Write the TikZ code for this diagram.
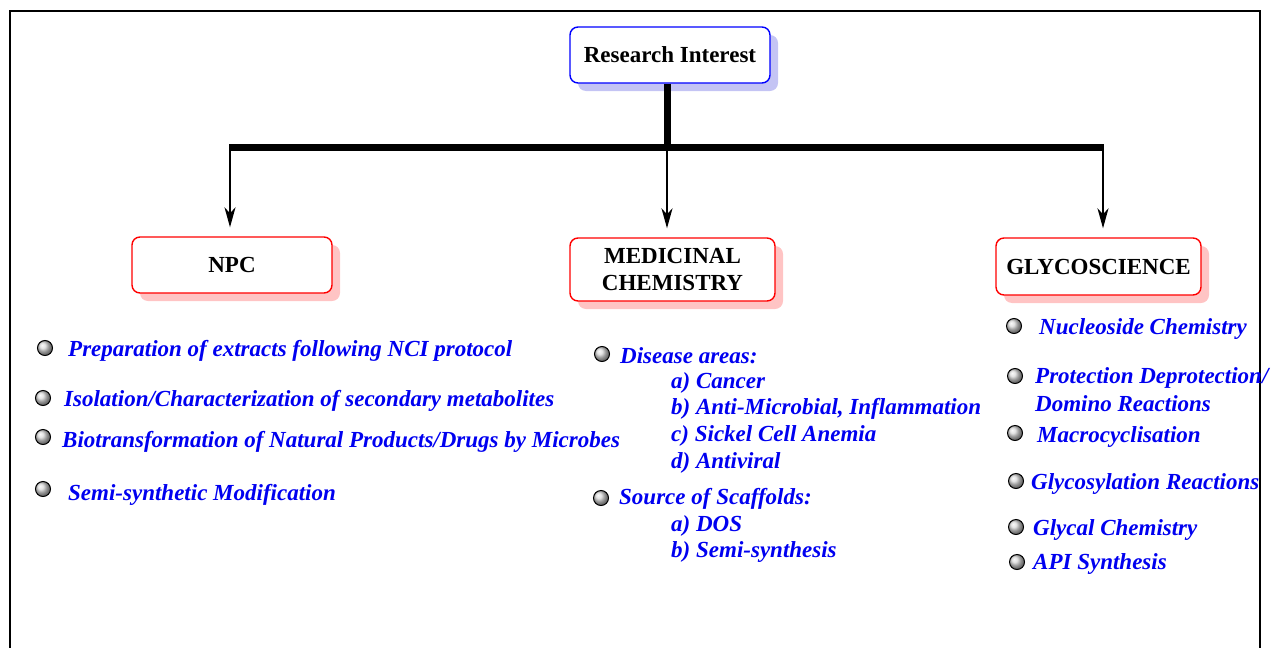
\documentclass[tikz,border=0pt]{standalone}
\usepackage{fontspec}
\setmainfont{Liberation Serif}
\usetikzlibrary{shadows,arrows.meta}
\definecolor{shblue}{HTML}{C4C4F4}
\definecolor{shred}{HTML}{FFC4C4}
\definecolor{itblue}{HTML}{0000F0}
\tikzset{
  topbox/.style={draw=blue,line width=1.4pt,rounded corners=8pt,fill=white,
    minimum width=200pt,minimum height=56pt,align=center,
    font=\fontsize{23}{27}\selectfont\bfseries,
    drop shadow={shadow xshift=8pt,shadow yshift=-8pt,fill=shblue,opacity=1}},
  catbox/.style={draw=red,line width=1.4pt,rounded corners=8pt,fill=white,
    minimum height=56pt,align=center,
    font=\fontsize{23}{27}\selectfont\bfseries,
    drop shadow={shadow xshift=8pt,shadow yshift=-8pt,fill=shred,opacity=1}},
  item/.style={anchor=west,inner sep=0pt,text=itblue,yshift=-2pt,
    font=\fontsize{23}{27}\selectfont\bfseries\itshape},
  ball/.style={circle,draw=black,line width=1pt,minimum size=15pt,inner sep=0pt,
    ball color=gray!30!white},
  conn/.style={line width=2pt,shorten >=9pt,-{Stealth[length=20pt,width=11pt,inset=6pt]}},
}
\begin{document}
\begin{tikzpicture}[x=1pt,y=-1pt]
\useasboundingbox (0,0) rectangle (1272,648);
% frame
\draw[line width=2pt] (10,650) -- (10,11) -- (1260,11) -- (1260,650);

\node[topbox] (ri) at (670,55) {Research Interest};
\node[catbox,minimum width=200pt] (npc) at (232,265) {NPC};
\node[catbox,minimum width=205pt,minimum height=63pt] (med) at (672.5,269.5) {MEDICINAL\\CHEMISTRY};
\node[catbox,minimum width=205pt,minimum height=57pt] (gly) at (1098.5,266.5) {GLYCOSCIENCE};

% tree
\coordinate (bm) at (667,147);
\coordinate (bl) at (230,147);
\coordinate (br) at (1103,147);
\draw[line width=7pt] (ri.south -| bm) -- ([yshift=3pt]bm);
\draw[line width=7pt] ([xshift=-1pt]bl) -- ([xshift=1pt]br);
\draw[conn] (bl) -- (bl |- npc.north);
\draw[conn] (bm) -- (bm |- med.north);
\draw[conn] (br) -- (br |- gly.north);

% NPC items
\node[ball] (n1b) at (45,348) {};
\node[item] (n1) at (68,349) {Preparation of extracts following NCI protocol};
\node[ball] (n2b) at (43,398) {};
\node[item] (n2) at (64,399) {Isolation/Characterization of secondary metabolites};
\node[ball] (n3b) at (43,437) {};
\node[item] (n3) at (62,440) {Biotransformation of Natural Products/Drugs by Microbes};
\node[ball] (n4b) at (43,489) {};
\node[item] (n4) at (68,493) {Semi-synthetic Modification};

% Medicinal items
\node[ball] (m1b) at (602,354) {};
\node[item] (m1) at (620,354) {Disease areas:};
\node[item] (m1a) at (671,381) {a) Cancer};
\node[item] (m1bb) at (671,407) {b) Anti-Microbial, Inflammation};
\node[item] (m1c) at (671,434) {c) Sickel Cell Anemia};
\node[item] (m1d) at (671,461) {d) Antiviral};
\node[ball] (m2b) at (601,498) {};
\node[item] (m2) at (619,497) {Source of Scaffolds:};
\node[item] (m2a) at (671,524) {a) DOS};
\node[item] (m2bb) at (671,550) {b) Semi-synthesis};

% Glyco items
\node[ball] (g1b) at (1014,326) {};
\node[item] (g1) at (1039,327) {Nucleoside Chemistry};
\node[ball] (g2b) at (1015,376) {};
\node[item] (g2) at (1035,376) {Protection Deprotection/};
\node[item] (g2x) at (1035,402) {Domino Reactions};
\node[ball] (g3b) at (1015,433) {};
\node[item] (g3) at (1037,435) {Macrocyclisation};
\node[ball] (g4b) at (1016,481) {};
\node[item] (g4) at (1031,482) {Glycosylation Reactions};
\node[ball] (g5b) at (1016,527) {};
\node[item] (g5) at (1033,528) {Glycal Chemistry};
\node[ball] (g6b) at (1017,562) {};
\node[item] (g6) at (1033,562) {API Synthesis};
\end{tikzpicture}
\end{document}
